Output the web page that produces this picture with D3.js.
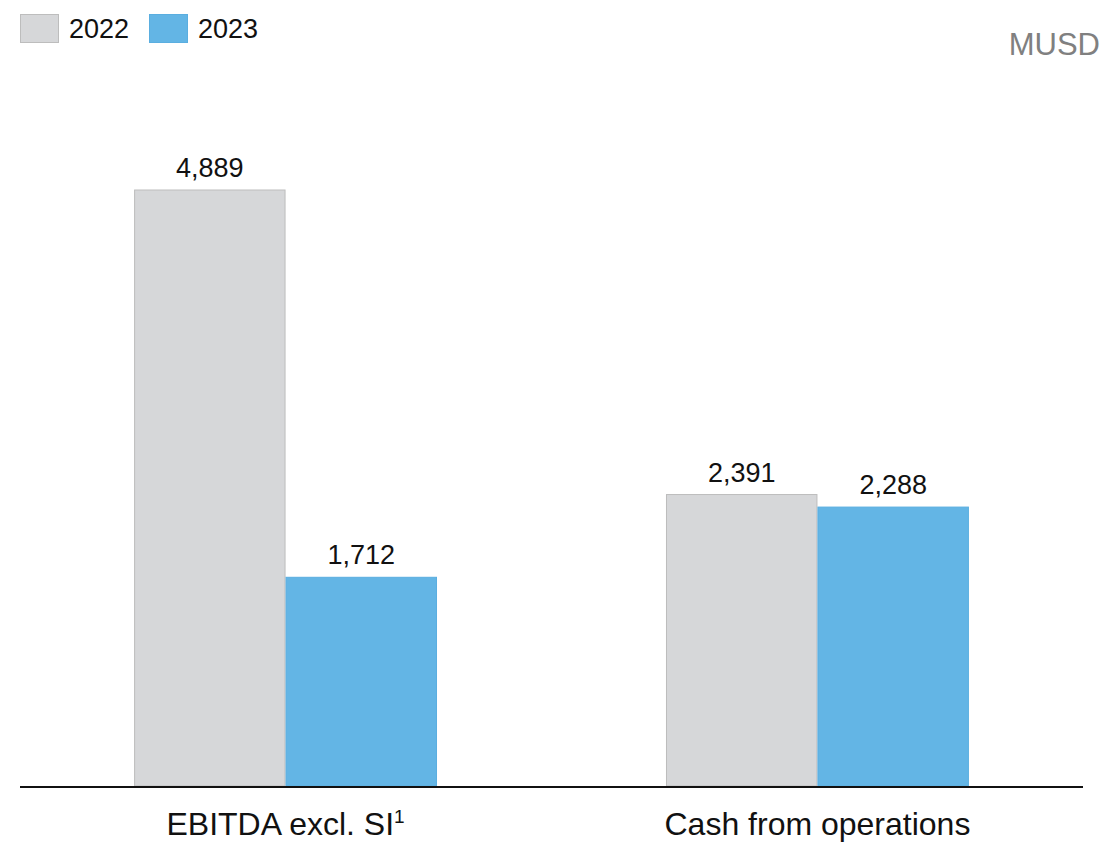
<!DOCTYPE html>
<html>
<head>
<meta charset="utf-8">
<script src="https://cdn.jsdelivr.net/npm/d3@7"></script>
<style>
  body { margin: 0; background: #fff; }
  text { font-family: "Liberation Sans", Arial, sans-serif; }
</style>
</head>
<body>
<div id="chart"></div>
<script>
const categories = ['EBITDA excl. SI', 'Cash from operations'];
const footnotes = ['1', ''];
const years = ['2022', '2023'];
const values2022 = [4889, 2391];
const values2023 = [1712, 2288];
const unitLabel = 'MUSD';

const width = 1102;
const height = 843;
const baseY = 786;
const colors = { '2022': '#d6d7d9', '2023': '#63b5e5' };
const strokes = { '2022': '#bdbdbd', '2023': '#5aaee0' };

const svg = d3.select('#chart').append('svg')
  .attr('width', width).attr('height', height);

const rows = categories.map((c, i) => ({ cat: c, note: footnotes[i], '2022': values2022[i], '2023': values2023[i] }));

const x0 = d3.scaleBand().domain(categories).range([20, 1083])
  .paddingInner(0.4305).paddingOuter(0.2145);
const x1 = d3.scaleBand().domain(years).range([0, x0.bandwidth()]);
const y = d3.scaleLinear().domain([0, 5000]).range([baseY, baseY - 5000 * 596 / 4889]);

// bars
const groups = svg.selectAll('g.grp').data(rows).enter()
  .append('g').attr('class', 'grp')
  .attr('transform', d => 'translate(' + x0(d.cat) + ',0)');

groups.selectAll('rect').data(d => years.map(k => ({ key: k, val: d[k] }))).enter()
  .append('rect')
  .attr('x', d => x1(d.key) + 0.5)
  .attr('y', d => y(d.val))
  .attr('width', x1.bandwidth() - 1)
  .attr('height', d => baseY - y(d.val))
  .attr('fill', d => colors[d.key])
  .attr('stroke', d => strokes[d.key])
  .attr('stroke-width', 1);

groups.selectAll('text.val').data(d => years.map(k => ({ key: k, val: d[k] }))).enter()
  .append('text').attr('class', 'val')
  .attr('x', d => x1(d.key) + x1.bandwidth() / 2)
  .attr('y', d => y(d.val) - 13)
  .attr('text-anchor', 'middle')
  .attr('font-size', '27px')
  .attr('fill', '#111')
  .text(d => d3.format(',')(d.val));

// baseline
svg.append('line')
  .attr('x1', 20).attr('x2', 1083)
  .attr('y1', baseY + 1).attr('y2', baseY + 1)
  .attr('stroke', '#111').attr('stroke-width', 2);

// category labels
const catText = svg.selectAll('text.cat').data(rows).enter()
  .append('text').attr('class', 'cat')
  .attr('x', d => x0(d.cat) + x0.bandwidth() / 2)
  .attr('y', 835)
  .attr('text-anchor', 'middle')
  .attr('font-size', '32px')
  .attr('fill', '#111');
catText.append('tspan').text(d => d.cat);
catText.filter(d => d.note).append('tspan')
  .attr('font-size', '19px').attr('dy', -12)
  .text(d => d.note);

// legend
const legend = svg.selectAll('g.leg').data(years).enter()
  .append('g').attr('class', 'leg')
  .attr('transform', (d, i) => 'translate(' + (20 + i * 129) + ',0)');
legend.append('rect')
  .attr('x', 0.5).attr('y', 14.5).attr('width', 38).attr('height', 28)
  .attr('fill', d => colors[d]).attr('stroke', d => strokes[d]);
legend.append('text')
  .attr('x', 49).attr('y', 38)
  .attr('font-size', '27px').attr('fill', '#111')
  .text(d => d);

// unit
svg.append('text')
  .attr('x', 1100).attr('y', 55)
  .attr('text-anchor', 'end')
  .attr('font-size', '31px').attr('fill', '#808080')
  .text(unitLabel);
</script>
</body>
</html>
